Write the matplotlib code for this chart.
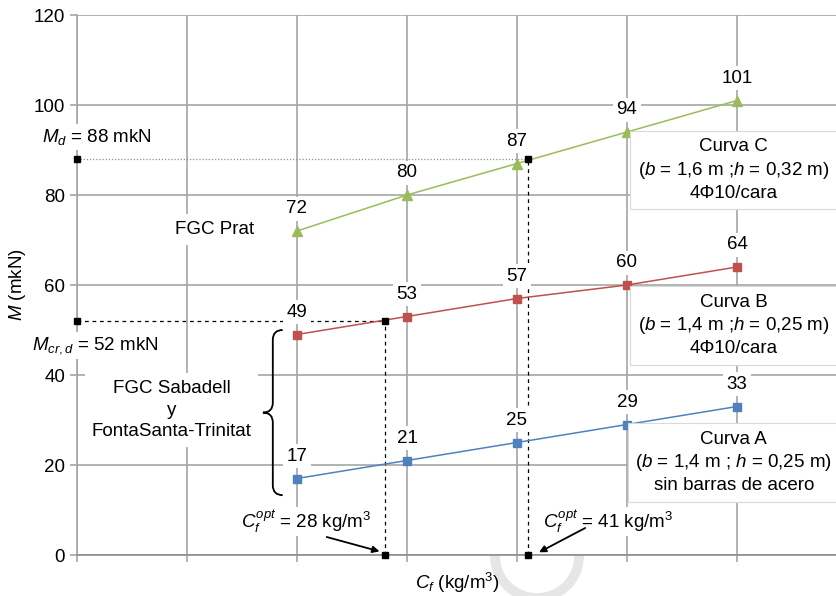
import numpy as np
import matplotlib
matplotlib.use("Agg")
import matplotlib.pyplot as plt
from matplotlib.path import Path
from matplotlib.patches import PathPatch, Arc

plt.rcParams["font.family"] = ["Liberation Sans", "DejaVu Sans"]
plt.rcParams["mathtext.fontset"] = "custom"
plt.rcParams["mathtext.rm"] = "Liberation Sans"
plt.rcParams["mathtext.it"] = "Liberation Sans:italic"
plt.rcParams["mathtext.bf"] = "Liberation Sans:bold"

# fibre content (kg/m3) and bending moments (mkN)
cf = [20, 30, 40, 50, 60]
curve_a = [17, 21, 25, 29, 33]
curve_b = [49, 53, 57, 60, 64]
curve_c = [72, 80, 87, 94, 101]

md = 88
mcrd = 52
cf_opt_b = 28
cf_opt_c = 41

BLUE = "#4F81BD"
RED = "#C0504D"
GREEN = "#9BBB59"
GRID = "#a6a6a6"
FS = 13.5

W, H = 837, 596
fig = plt.figure(figsize=(W / 100, H / 100), dpi=100)
ax = fig.add_axes([77 / W, 41 / H, 1 - 77 / W, 540 / H])
ax.set_xlim(0, (W - 77) / 11)
ax.set_ylim(0, 120)

ax.set_yticks(range(0, 121, 20))
ax.set_xticks(range(0, 61, 10))
ax.set_xticklabels([])
ax.tick_params(axis="both", color=GRID, length=5, width=1.2, labelsize=FS)
ax.grid(True, color=GRID, linewidth=1.2, zorder=0)
ax.set_axisbelow(True)
for side in ("top", "right"):
    ax.spines[side].set_visible(False)
for side in ("left", "bottom"):
    ax.spines[side].set_color("#8c8c8c")
    ax.spines[side].set_linewidth(1.2)
ax.spines["left"].set_color(GRID)

ax.set_xlabel(r"$C_f$ (kg/m$^3$)", fontsize=FS, labelpad=3)
ax.set_ylabel(r"$M$ (mkN)", fontsize=FS, labelpad=4)

# curves
ax.plot(cf, curve_a, color=BLUE, marker="s", ms=6, lw=1.1, zorder=4)
ax.plot(cf, curve_b, color=RED, marker="s", ms=6, lw=1.1, zorder=4)
ax.plot(cf, curve_c, color=GREEN, marker="^", ms=7, lw=1.1, zorder=4)

lbl_box = dict(facecolor="white", edgecolor="none", pad=2.5)
for ys in (curve_a, curve_b, curve_c):
    for x, y in zip(cf, ys):
        ax.annotate(f"{y}", (x, y), xytext=(0, 16), textcoords="offset points",
                    ha="center", va="center", fontsize=FS, bbox=lbl_box, zorder=6)

# reference lines
ax.plot([0, cf_opt_c], [md, md], color="#909090", lw=0.9, ls=(0, (1, 1.5)), zorder=3, clip_on=False)
ax.plot([cf_opt_c, cf_opt_c], [0, md], color="black", lw=0.9, ls=(0, (3, 3)), zorder=3)
ax.plot([0, cf_opt_b], [mcrd, mcrd], color="black", lw=0.9, ls=(0, (3, 3)), zorder=3, clip_on=False)
ax.plot([cf_opt_b, cf_opt_b], [0, mcrd], color="black", lw=0.9, ls=(0, (3, 3)), zorder=3)
ax.plot([0, 0, cf_opt_b, cf_opt_b, cf_opt_c, cf_opt_c],
        [md, mcrd, mcrd, 0, md, 0], ls="none", marker="s", ms=5,
        color="black", zorder=7, clip_on=False)

txt_box = dict(facecolor="white", edgecolor="none", pad=2)
ax.text(1.8, 92.9, r"$M_d$ = 88 mkN", ha="center", va="center", fontsize=FS,
        bbox=txt_box, zorder=6, clip_on=False)
ax.text(1.7, 46.6, r"$M_{cr,d}$ = 52 mkN", ha="center", va="center", fontsize=FS,
        bbox=txt_box, zorder=6, clip_on=False)
ax.text(12.5, 72.4, "FGC Prat", ha="center", va="center", fontsize=FS,
        bbox=dict(facecolor="white", edgecolor="none", pad=5), zorder=6)
ax.text(8.6, 32.2, "FGC Sabadell\ny\nFontaSanta-Trinitat", ha="center", va="center",
        fontsize=FS, linespacing=1.35, bbox=dict(facecolor="white", edgecolor="none", pad=5),
        zorder=6)

ax.text(20.8, 7.4, r"$C_f^{opt}$ = 28 kg/m$^3$", ha="center", va="center", fontsize=FS,
        bbox=dict(facecolor="white", edgecolor="none", pad=1), zorder=6)
ax.text(48.3, 7.4, r"$C_f^{opt}$ = 41 kg/m$^3$", ha="center", va="center", fontsize=FS,
        bbox=dict(facecolor="white", edgecolor="none", pad=1), zorder=6)
arrow = dict(arrowstyle="-|>", color="black", lw=1.3, mutation_scale=10, shrinkA=0, shrinkB=0)
ax.annotate("", xy=(27.5, 0.8), xytext=(22.7, 4.0), arrowprops=arrow, zorder=7)
ax.annotate("", xy=(42.0, 0.6), xytext=(46.2, 6.0), arrowprops=arrow, zorder=7)

# curve description boxes
box = dict(facecolor="white", edgecolor="#d9d9d9", boxstyle="square,pad=0.4", lw=0.8)
ax.text(59.7, 85.6, "Curva C\n($b$ = 1,6 m ;$h$ = 0,32 m)\n4Φ10/cara", ha="center",
        va="center", fontsize=FS, linespacing=1.3, bbox=box, zorder=6)
ax.text(59.7, 51.0, "Curva B\n($b$ = 1,4 m ;$h$ = 0,25 m)\n4Φ10/cara", ha="center",
        va="center", fontsize=FS, linespacing=1.3, bbox=box, zorder=6)
ax.text(59.7, 20.6, "Curva A\n($b$ = 1,4 m ; $h$ = 0,25 m)\nsin barras de acero", ha="center",
        va="center", fontsize=FS, linespacing=1.3, bbox=box, zorder=6)


# curly brace grouping curves A and B
def brace(x, y0, y1, w, r):
    ym = (y0 + y1) / 2
    verts = [(x + w, y1), (x, y1), (x, y1 - r), (x, ym + r), (x, ym), (x - w, ym),
             (x, ym), (x, ym - r), (x, y0 + r), (x, y0), (x + w, y0)]
    codes = [Path.MOVETO, Path.CURVE3, Path.CURVE3, Path.LINETO, Path.CURVE3, Path.CURVE3,
             Path.CURVE3, Path.CURVE3, Path.LINETO, Path.CURVE3, Path.CURVE3]
    return Path(verts, codes)


ax.add_patch(PathPatch(brace(17.8, 13.3, 50.0, 0.9, 2.2), facecolor="none",
                       edgecolor="black", lw=1.3, zorder=6))

# faint watermark ring at the bottom
fig.add_artist(Arc((537 / W, 1 - 556 / H), 84 / W, 84 / H, theta1=180, theta2=360,
                   transform=fig.transFigure, color="#e6e6e6", lw=7, zorder=0))

fig.savefig("out.png", dpi=100)
